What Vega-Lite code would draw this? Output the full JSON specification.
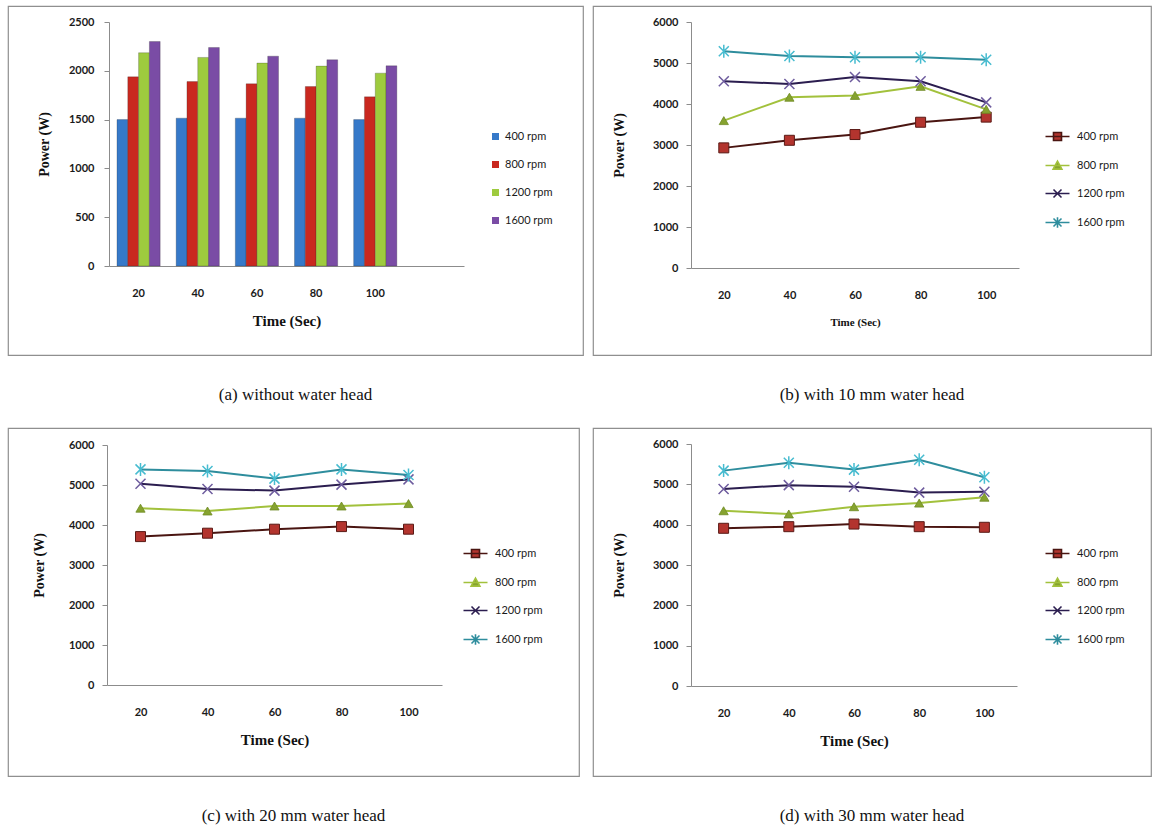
{
  "$schema": "https://vega.github.io/schema/vega-lite/v6.json",
  "padding": {"left": 7, "top": 5, "right": 0, "bottom": 0},
  "autosize": {"type": "pad"},
  "background": "white",
  "config": {
    "view": {"stroke": "#8f8f8f", "strokeWidth": 1.2},
    "axis": {"grid": false, "domainColor": "#8c8c8c", "tickColor": "#8c8c8c", "labelFont": "Lato", "labelFontSize": 11, "labelColor": "#1a1a1a", "labelFontWeight": "bold", "titleFont": "Liberation Serif", "titleColor": "#111111", "titleFontWeight": "bold"},
    "legend": {"labelFont": "Lato", "labelFontSize": 11, "labelColor": "#1a1a1a", "symbolOpacity": 1},
    "title": {"font": "Liberation Serif", "fontSize": 17, "fontWeight": "normal", "color": "#111111"}
  },
  "datasets": {
    "a": [
      {"t": "20", "rpm": "400 rpm", "p": 1500}, {"t": "20", "rpm": "800 rpm", "p": 1938}, {"t": "20", "rpm": "1200 rpm", "p": 2185}, {"t": "20", "rpm": "1600 rpm", "p": 2300},
      {"t": "40", "rpm": "400 rpm", "p": 1515}, {"t": "40", "rpm": "800 rpm", "p": 1890}, {"t": "40", "rpm": "1200 rpm", "p": 2137}, {"t": "40", "rpm": "1600 rpm", "p": 2239},
      {"t": "60", "rpm": "400 rpm", "p": 1515}, {"t": "60", "rpm": "800 rpm", "p": 1867}, {"t": "60", "rpm": "1200 rpm", "p": 2079}, {"t": "60", "rpm": "1600 rpm", "p": 2150},
      {"t": "80", "rpm": "400 rpm", "p": 1515}, {"t": "80", "rpm": "800 rpm", "p": 1839}, {"t": "80", "rpm": "1200 rpm", "p": 2048}, {"t": "80", "rpm": "1600 rpm", "p": 2113},
      {"t": "100", "rpm": "400 rpm", "p": 1500}, {"t": "100", "rpm": "800 rpm", "p": 1733}, {"t": "100", "rpm": "1200 rpm", "p": 1976}, {"t": "100", "rpm": "1600 rpm", "p": 2051}
    ],
    "b": [
      {"t": "20", "rpm": "400 rpm", "p": 2930}, {"t": "40", "rpm": "400 rpm", "p": 3115}, {"t": "60", "rpm": "400 rpm", "p": 3255}, {"t": "80", "rpm": "400 rpm", "p": 3555}, {"t": "100", "rpm": "400 rpm", "p": 3680},
      {"t": "20", "rpm": "800 rpm", "p": 3595}, {"t": "40", "rpm": "800 rpm", "p": 4165}, {"t": "60", "rpm": "800 rpm", "p": 4210}, {"t": "80", "rpm": "800 rpm", "p": 4430}, {"t": "100", "rpm": "800 rpm", "p": 3870},
      {"t": "20", "rpm": "1200 rpm", "p": 4555}, {"t": "40", "rpm": "1200 rpm", "p": 4490}, {"t": "60", "rpm": "1200 rpm", "p": 4660}, {"t": "80", "rpm": "1200 rpm", "p": 4555}, {"t": "100", "rpm": "1200 rpm", "p": 4040},
      {"t": "20", "rpm": "1600 rpm", "p": 5285}, {"t": "40", "rpm": "1600 rpm", "p": 5170}, {"t": "60", "rpm": "1600 rpm", "p": 5140}, {"t": "80", "rpm": "1600 rpm", "p": 5140}, {"t": "100", "rpm": "1600 rpm", "p": 5080}
    ],
    "c": [
      {"t": "20", "rpm": "400 rpm", "p": 3710}, {"t": "40", "rpm": "400 rpm", "p": 3795}, {"t": "60", "rpm": "400 rpm", "p": 3895}, {"t": "80", "rpm": "400 rpm", "p": 3960}, {"t": "100", "rpm": "400 rpm", "p": 3895},
      {"t": "20", "rpm": "800 rpm", "p": 4420}, {"t": "40", "rpm": "800 rpm", "p": 4350}, {"t": "60", "rpm": "800 rpm", "p": 4475}, {"t": "80", "rpm": "800 rpm", "p": 4475}, {"t": "100", "rpm": "800 rpm", "p": 4535},
      {"t": "20", "rpm": "1200 rpm", "p": 5030}, {"t": "40", "rpm": "1200 rpm", "p": 4900}, {"t": "60", "rpm": "1200 rpm", "p": 4860}, {"t": "80", "rpm": "1200 rpm", "p": 5010}, {"t": "100", "rpm": "1200 rpm", "p": 5140},
      {"t": "20", "rpm": "1600 rpm", "p": 5390}, {"t": "40", "rpm": "1600 rpm", "p": 5350}, {"t": "60", "rpm": "1600 rpm", "p": 5160}, {"t": "80", "rpm": "1600 rpm", "p": 5390}, {"t": "100", "rpm": "1600 rpm", "p": 5250}
    ],
    "d": [
      {"t": "20", "rpm": "400 rpm", "p": 3910}, {"t": "40", "rpm": "400 rpm", "p": 3950}, {"t": "60", "rpm": "400 rpm", "p": 4015}, {"t": "80", "rpm": "400 rpm", "p": 3950}, {"t": "100", "rpm": "400 rpm", "p": 3935},
      {"t": "20", "rpm": "800 rpm", "p": 4345}, {"t": "40", "rpm": "800 rpm", "p": 4265}, {"t": "60", "rpm": "800 rpm", "p": 4445}, {"t": "80", "rpm": "800 rpm", "p": 4535}, {"t": "100", "rpm": "800 rpm", "p": 4680},
      {"t": "20", "rpm": "1200 rpm", "p": 4885}, {"t": "40", "rpm": "1200 rpm", "p": 4980}, {"t": "60", "rpm": "1200 rpm", "p": 4940}, {"t": "80", "rpm": "1200 rpm", "p": 4795}, {"t": "100", "rpm": "1200 rpm", "p": 4815},
      {"t": "20", "rpm": "1600 rpm", "p": 5340}, {"t": "40", "rpm": "1600 rpm", "p": 5535}, {"t": "60", "rpm": "1600 rpm", "p": 5365}, {"t": "80", "rpm": "1600 rpm", "p": 5610}, {"t": "100", "rpm": "1600 rpm", "p": 5175}
    ]
  },
  "spacing": 422,
  "bounds": "flush",
  "resolve": {"scale": {"color": "independent", "fill": "independent", "stroke": "independent", "shape": "independent", "x": "independent", "y": "independent"}, "legend": {"color": "independent", "fill": "independent", "stroke": "independent", "shape": "independent"}},
  "vconcat": [
    {
      "spacing": 10,
      "bounds": "flush",
      "resolve": {"scale": {"color": "independent", "fill": "independent", "stroke": "independent", "shape": "independent", "x": "independent", "y": "independent"}, "legend": {"color": "independent", "fill": "independent", "stroke": "independent", "shape": "independent"}},
      "hconcat": [
        {
          "width": 575, "height": 349,
          "data": {"name": "a"},
          "title": {"text": "(a) without water head", "orient": "bottom", "offset": 32},
          "mark": {"type": "bar", "stroke": "#222222", "strokeOpacity": 0.3, "strokeWidth": 0.8},
          "encoding": {
            "x": {"field": "t", "type": "nominal", "scale": {"domain": ["20", "40", "60", "80", "100", " "], "range": [101, 456], "paddingInner": 0.27, "paddingOuter": 0.135}, "axis": {"title": "Time (Sec)", "labelAngle": 0, "ticks": false, "offset": -89, "labelPadding": 21, "titlePadding": 15, "titleFontSize": 15}},
            "xOffset": {"field": "rpm", "type": "nominal", "scale": {"domain": ["400 rpm", "800 rpm", "1200 rpm", "1600 rpm"], "paddingInner": 0, "paddingOuter": 0}},
            "y": {"field": "p", "type": "quantitative", "scale": {"domain": [0, 2500], "range": [260, 16], "nice": false}, "axis": {"title": "Power (W)", "format": "d", "values": [0, 500, 1000, 1500, 2000, 2500], "offset": -101, "tickSize": 5, "labelPadding": 10, "titlePadding": 17, "titleFontSize": 14}},
            "color": {"field": "rpm", "type": "nominal", "scale": {"domain": ["400 rpm", "800 rpm", "1200 rpm", "1600 rpm"], "range": ["#3679C9", "#C9281F", "#9ECB3E", "#7A4CA5"]}, "legend": {"orient": "none", "legendX": 482, "legendY": 125, "title": null, "symbolType": "square", "symbolSize": 49, "symbolStrokeWidth": 0, "rowPadding": 16, "labelOffset": 4, "padding": 0}}
          }
        },
        {
          "width": 558, "height": 349,
          "data": {"name": "b"},
          "title": {"text": "(b) with 10 mm water head", "orient": "bottom", "offset": 32},
          "encoding": {
            "x": {"field": "t", "type": "nominal", "sort": ["20", "40", "60", "80", "100"], "scale": {"type": "point", "domain": ["20", "40", "60", "80", "100"], "range": [98, 426], "padding": 0.5}, "axis": {"title": "Time (Sec)", "labelAngle": 0, "ticks": false, "offset": -87, "labelPadding": 21, "titlePadding": 16, "titleFontSize": 11}},
            "y": {"field": "p", "type": "quantitative", "scale": {"domain": [0, 6000], "range": [262, 16], "nice": false}, "axis": {"title": "Power (W)", "format": "d", "values": [0, 1000, 2000, 3000, 4000, 5000, 6000], "offset": -98, "tickSize": 5, "labelPadding": 8, "titlePadding": 26, "titleFontSize": 14}}
          },
          "layer": [
            {"transform": [{"filter": "datum.rpm == '400 rpm'"}], "mark": {"type": "line", "stroke": "#4A1511", "strokeWidth": 2, "point": {"shape": "square", "filled": true, "fill": "#B3342E", "stroke": "#5A1A16", "strokeWidth": 1, "size": 100, "opacity": 1}}},
            {"transform": [{"filter": "datum.rpm == '800 rpm'"}], "mark": {"type": "line", "stroke": "#A2C13C", "strokeWidth": 2, "point": {"shape": "triangle-up", "filled": true, "fill": "#86A32F", "stroke": "#6E8A25", "strokeWidth": 0.8, "size": 85, "opacity": 1}}},
            {"transform": [{"filter": "datum.rpm == '1200 rpm'"}], "mark": {"type": "line", "stroke": "#2B1D4F", "strokeWidth": 2, "point": {"shape": "M-1,-1L1,1M-1,1L1,-1", "filled": false, "stroke": "#6E5C9E", "strokeWidth": 1.5, "size": 100, "opacity": 1}}},
            {"transform": [{"filter": "datum.rpm == '1600 rpm'"}], "mark": {"type": "line", "stroke": "#2E8D9D", "strokeWidth": 2, "point": {"shape": "M-1,-1L1,1M-1,1L1,-1M0,-1.3L0,1.3", "filled": false, "stroke": "#47BCD0", "strokeWidth": 1.5, "size": 100, "opacity": 1}}},
            {"transform": [{"filter": "false"}], "mark": {"type": "point", "opacity": 1},
             "encoding": {
               "shape": {"field": "rpm", "type": "nominal", "scale": {"domain": ["400 rpm", "800 rpm", "1200 rpm", "1600 rpm"], "range": ["M-3,0L3,0M-1,-1L1,-1L1,1L-1,1Z", "M-3,0L3,0M0,-1.1L1.1,0.9L-1.1,0.9Z", "M-3,0L3,0M-1,-1L1,1M-1,1L1,-1", "M-3,0L3,0M-1,-1L1,1M-1,1L1,-1M0,-1.3L0,1.3"]}, "legend": {"orient": "none", "legendX": 459, "legendY": 125, "title": null, "symbolSize": 64, "symbolStrokeWidth": 1.6, "symbolOpacity": 1, "rowPadding": 13, "labelOffset": 14, "padding": 0}},
               "fill": {"field": "rpm", "type": "nominal", "scale": {"domain": ["400 rpm", "800 rpm", "1200 rpm", "1600 rpm"], "range": ["#B3342E", "#86A32F", "transparent", "transparent"]}, "legend": {"orient": "none", "legendX": 459, "legendY": 125, "title": null, "symbolSize": 64, "symbolStrokeWidth": 1.6, "symbolOpacity": 1, "rowPadding": 13, "labelOffset": 14, "padding": 0}},
               "stroke": {"field": "rpm", "type": "nominal", "scale": {"domain": ["400 rpm", "800 rpm", "1200 rpm", "1600 rpm"], "range": ["#4A1511", "#A2C13C", "#2B1D4F", "#2E8D9D"]}, "legend": {"orient": "none", "legendX": 459, "legendY": 125, "title": null, "symbolSize": 64, "symbolStrokeWidth": 1.6, "symbolOpacity": 1, "rowPadding": 13, "labelOffset": 14, "padding": 0}}
             }}
          ]
        }
      ]
    },
    {
      "spacing": 14,
      "bounds": "flush",
      "resolve": {"scale": {"color": "independent", "fill": "independent", "stroke": "independent", "shape": "independent", "x": "independent", "y": "independent"}, "legend": {"color": "independent", "fill": "independent", "stroke": "independent", "shape": "independent"}},
      "hconcat": [
        {
          "width": 571, "height": 348,
          "data": {"name": "c"},
          "title": {"text": "(c) with 20 mm water head", "orient": "bottom", "offset": 32},
          "encoding": {
            "x": {"field": "t", "type": "nominal", "sort": ["20", "40", "60", "80", "100"], "scale": {"type": "point", "domain": ["20", "40", "60", "80", "100"], "range": [99, 434], "padding": 0.5}, "axis": {"title": "Time (Sec)", "labelAngle": 0, "ticks": false, "offset": -91, "labelPadding": 21, "titlePadding": 15, "titleFontSize": 15}},
            "y": {"field": "p", "type": "quantitative", "scale": {"domain": [0, 6000], "range": [257, 17], "nice": false}, "axis": {"title": "Power (W)", "format": "d", "values": [0, 1000, 2000, 3000, 4000, 5000, 6000], "offset": -99, "tickSize": 5, "labelPadding": 8, "titlePadding": 22, "titleFontSize": 14}}
          },
          "layer": [
            {"transform": [{"filter": "datum.rpm == '400 rpm'"}], "mark": {"type": "line", "stroke": "#4A1511", "strokeWidth": 2, "point": {"shape": "square", "filled": true, "fill": "#B3342E", "stroke": "#5A1A16", "strokeWidth": 1, "size": 100, "opacity": 1}}},
            {"transform": [{"filter": "datum.rpm == '800 rpm'"}], "mark": {"type": "line", "stroke": "#A2C13C", "strokeWidth": 2, "point": {"shape": "triangle-up", "filled": true, "fill": "#86A32F", "stroke": "#6E8A25", "strokeWidth": 0.8, "size": 85, "opacity": 1}}},
            {"transform": [{"filter": "datum.rpm == '1200 rpm'"}], "mark": {"type": "line", "stroke": "#2B1D4F", "strokeWidth": 2, "point": {"shape": "M-1,-1L1,1M-1,1L1,-1", "filled": false, "stroke": "#6E5C9E", "strokeWidth": 1.5, "size": 100, "opacity": 1}}},
            {"transform": [{"filter": "datum.rpm == '1600 rpm'"}], "mark": {"type": "line", "stroke": "#2E8D9D", "strokeWidth": 2, "point": {"shape": "M-1,-1L1,1M-1,1L1,-1M0,-1.3L0,1.3", "filled": false, "stroke": "#47BCD0", "strokeWidth": 1.5, "size": 100, "opacity": 1}}},
            {"transform": [{"filter": "false"}], "mark": {"type": "point", "opacity": 1},
             "encoding": {
               "shape": {"field": "rpm", "type": "nominal", "scale": {"domain": ["400 rpm", "800 rpm", "1200 rpm", "1600 rpm"], "range": ["M-3,0L3,0M-1,-1L1,-1L1,1L-1,1Z", "M-3,0L3,0M0,-1.1L1.1,0.9L-1.1,0.9Z", "M-3,0L3,0M-1,-1L1,1M-1,1L1,-1", "M-3,0L3,0M-1,-1L1,1M-1,1L1,-1M0,-1.3L0,1.3"]}, "legend": {"orient": "none", "legendX": 462, "legendY": 120, "title": null, "symbolSize": 64, "symbolStrokeWidth": 1.6, "symbolOpacity": 1, "rowPadding": 13, "labelOffset": 14, "padding": 0}},
               "fill": {"field": "rpm", "type": "nominal", "scale": {"domain": ["400 rpm", "800 rpm", "1200 rpm", "1600 rpm"], "range": ["#B3342E", "#86A32F", "transparent", "transparent"]}, "legend": {"orient": "none", "legendX": 462, "legendY": 120, "title": null, "symbolSize": 64, "symbolStrokeWidth": 1.6, "symbolOpacity": 1, "rowPadding": 13, "labelOffset": 14, "padding": 0}},
               "stroke": {"field": "rpm", "type": "nominal", "scale": {"domain": ["400 rpm", "800 rpm", "1200 rpm", "1600 rpm"], "range": ["#4A1511", "#A2C13C", "#2B1D4F", "#2E8D9D"]}, "legend": {"orient": "none", "legendX": 462, "legendY": 120, "title": null, "symbolSize": 64, "symbolStrokeWidth": 1.6, "symbolOpacity": 1, "rowPadding": 13, "labelOffset": 14, "padding": 0}}
             }}
          ]
        },
        {
          "width": 558, "height": 348,
          "data": {"name": "d"},
          "title": {"text": "(d) with 30 mm water head", "orient": "bottom", "offset": 32},
          "encoding": {
            "x": {"field": "t", "type": "nominal", "sort": ["20", "40", "60", "80", "100"], "scale": {"type": "point", "domain": ["20", "40", "60", "80", "100"], "range": [98, 424], "padding": 0.5}, "axis": {"title": "Time (Sec)", "labelAngle": 0, "ticks": false, "offset": -90, "labelPadding": 21, "titlePadding": 15, "titleFontSize": 15}},
            "y": {"field": "p", "type": "quantitative", "scale": {"domain": [0, 6000], "range": [258, 16], "nice": false}, "axis": {"title": "Power (W)", "format": "d", "values": [0, 1000, 2000, 3000, 4000, 5000, 6000], "offset": -98, "tickSize": 5, "labelPadding": 8, "titlePadding": 26, "titleFontSize": 14}}
          },
          "layer": [
            {"transform": [{"filter": "datum.rpm == '400 rpm'"}], "mark": {"type": "line", "stroke": "#4A1511", "strokeWidth": 2, "point": {"shape": "square", "filled": true, "fill": "#B3342E", "stroke": "#5A1A16", "strokeWidth": 1, "size": 100, "opacity": 1}}},
            {"transform": [{"filter": "datum.rpm == '800 rpm'"}], "mark": {"type": "line", "stroke": "#A2C13C", "strokeWidth": 2, "point": {"shape": "triangle-up", "filled": true, "fill": "#86A32F", "stroke": "#6E8A25", "strokeWidth": 0.8, "size": 85, "opacity": 1}}},
            {"transform": [{"filter": "datum.rpm == '1200 rpm'"}], "mark": {"type": "line", "stroke": "#2B1D4F", "strokeWidth": 2, "point": {"shape": "M-1,-1L1,1M-1,1L1,-1", "filled": false, "stroke": "#6E5C9E", "strokeWidth": 1.5, "size": 100, "opacity": 1}}},
            {"transform": [{"filter": "datum.rpm == '1600 rpm'"}], "mark": {"type": "line", "stroke": "#2E8D9D", "strokeWidth": 2, "point": {"shape": "M-1,-1L1,1M-1,1L1,-1M0,-1.3L0,1.3", "filled": false, "stroke": "#47BCD0", "strokeWidth": 1.5, "size": 100, "opacity": 1}}},
            {"transform": [{"filter": "false"}], "mark": {"type": "point", "opacity": 1},
             "encoding": {
               "shape": {"field": "rpm", "type": "nominal", "scale": {"domain": ["400 rpm", "800 rpm", "1200 rpm", "1600 rpm"], "range": ["M-3,0L3,0M-1,-1L1,-1L1,1L-1,1Z", "M-3,0L3,0M0,-1.1L1.1,0.9L-1.1,0.9Z", "M-3,0L3,0M-1,-1L1,1M-1,1L1,-1", "M-3,0L3,0M-1,-1L1,1M-1,1L1,-1M0,-1.3L0,1.3"]}, "legend": {"orient": "none", "legendX": 459, "legendY": 120, "title": null, "symbolSize": 64, "symbolStrokeWidth": 1.6, "symbolOpacity": 1, "rowPadding": 13, "labelOffset": 14, "padding": 0}},
               "fill": {"field": "rpm", "type": "nominal", "scale": {"domain": ["400 rpm", "800 rpm", "1200 rpm", "1600 rpm"], "range": ["#B3342E", "#86A32F", "transparent", "transparent"]}, "legend": {"orient": "none", "legendX": 459, "legendY": 120, "title": null, "symbolSize": 64, "symbolStrokeWidth": 1.6, "symbolOpacity": 1, "rowPadding": 13, "labelOffset": 14, "padding": 0}},
               "stroke": {"field": "rpm", "type": "nominal", "scale": {"domain": ["400 rpm", "800 rpm", "1200 rpm", "1600 rpm"], "range": ["#4A1511", "#A2C13C", "#2B1D4F", "#2E8D9D"]}, "legend": {"orient": "none", "legendX": 459, "legendY": 120, "title": null, "symbolSize": 64, "symbolStrokeWidth": 1.6, "symbolOpacity": 1, "rowPadding": 13, "labelOffset": 14, "padding": 0}}
             }}
          ]
        }
      ]
    }
  ]
}
